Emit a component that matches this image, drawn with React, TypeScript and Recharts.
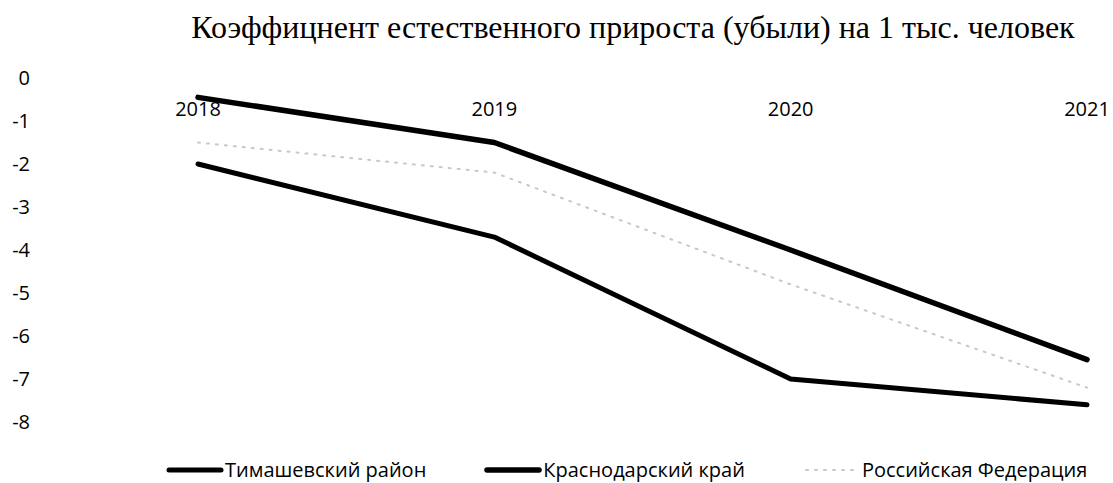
import React from "react";
import { LineChart, Line, XAxis, YAxis } from "recharts";

const years = ["2018", "2019", "2020", "2021"];
const timashevsky = [-2.0, -3.7, -7.0, -7.6];
const krasnodar = [-0.45, -1.5, -4.0, -6.55];
const russia = [-1.5, -2.2, -4.8, -7.2];
const yTicks = [0, -1, -2, -3, -4, -5, -6, -7, -8];

const series = [
  { key: "tim", name: "Тимашевский район", values: timashevsky, color: "#000000", width: 5, dash: undefined as string | undefined },
  { key: "kra", name: "Краснодарский край", values: krasnodar, color: "#000000", width: 5.5, dash: undefined as string | undefined },
  { key: "rf", name: "Российская Федерация", values: russia, color: "#c8c8c8", width: 2, dash: "2 7" },
];

const data = years.map((y, i) => {
  const row: Record<string, string | number> = { year: y };
  series.forEach((s) => (row[s.key] = s.values[i]));
  return row;
});

const FONT = "'Open Sans', 'DejaVu Sans', sans-serif";

const LegendBox = () => (
  <div style={{ position: "absolute", left: 165, top: 459, display: "flex", flexDirection: "row", fontFamily: FONT, fontSize: 20, lineHeight: "22px", color: "#000", whiteSpace: "nowrap" }}>
    {series.map((s) => (
      <div key={s.key} style={{ display: "flex", alignItems: "center", marginRight: 57 }}>
        <svg width={60} height={10} style={{ marginRight: 0 }}>
          <line x1={4} y1={5} x2={56} y2={5} stroke={s.color} strokeWidth={s.width} strokeLinecap="round" strokeDasharray={s.dash} />
        </svg>
        <span>{s.name}</span>
      </div>
    ))}
  </div>
);

export default function App() {
  return (
    <div style={{ position: "absolute", left: 0, top: 0, width: 1113, height: 483, background: "#fff", overflow: "hidden" }}>
      <div style={{ position: "absolute", left: 0, top: 9, width: 1113, textAlign: "center", paddingLeft: 153, boxSizing: "border-box", fontFamily: "'Liberation Serif', 'Times New Roman', serif", fontSize: 32, lineHeight: "36px", color: "#000", whiteSpace: "nowrap" }}>
        Коэффицнент естественного прироста (убыли) на 1 тыс. человек
      </div>
      <LineChart width={1113} height={483} data={data} margin={{ top: 48, right: 26, bottom: 61, left: 0 }}>
        <XAxis dataKey="year" orientation="top" height={30} axisLine={false} tickLine={false} interval={0}
          tick={{ fill: "#000", fontSize: 20, fontFamily: FONT, dy: 46 }} />
        <YAxis type="number" domain={[-8, 0]} ticks={yTicks} width={198} axisLine={false} tickLine={false}
          tick={{ fill: "#000", fontSize: 20, fontFamily: FONT, dx: -160 }} />
        {series.map((s) => (
          <Line key={s.key} dataKey={s.key} name={s.name} type="linear" stroke={s.color} strokeWidth={s.width}
            strokeDasharray={s.dash} strokeLinecap="round" strokeLinejoin="round" dot={false} activeDot={false} isAnimationActive={false} />
        ))}
      </LineChart>
      <LegendBox />
    </div>
  );
}
